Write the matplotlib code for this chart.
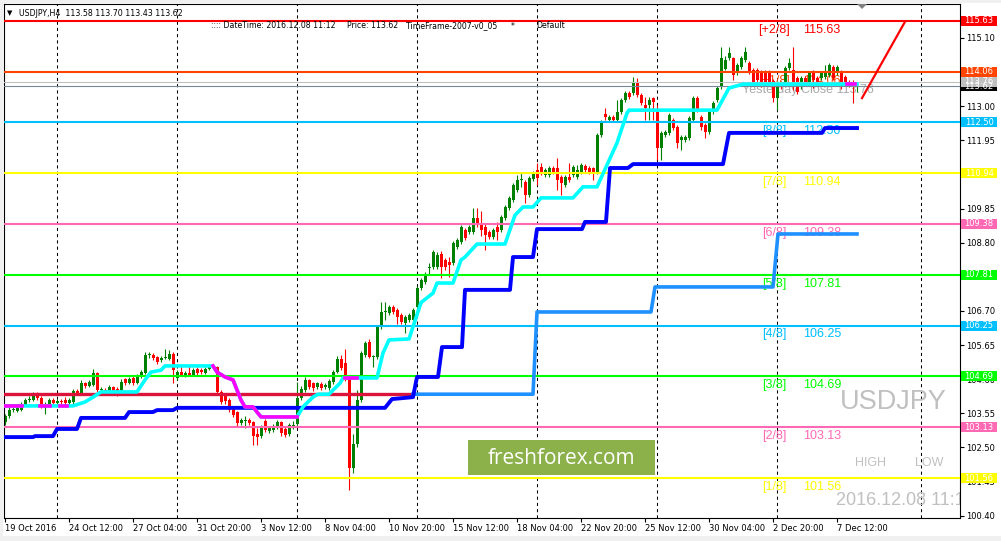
import numpy as np
import matplotlib.pyplot as plt
from matplotlib.patches import Rectangle, Polygon
from matplotlib.transforms import blended_transform_factory

plt.rcParams['font.family'] = ['DejaVu Sans']

# H4 candles, 19 Oct 2016 .. 8 Dec 2016 (bar index = position on chart)
opens = [
    103.28, 103.47, 103.65, 103.62, 103.65, 103.81, 103.96, 103.96, 104.08, 104.02,
    103.72, 103.81, 103.96, 103.87, 103.93, 103.96, 103.87, 103.90, 104.24, 104.18,
    104.48, 104.39, 104.42, 104.79, 104.27, 104.27, 104.21, 104.36, 104.30, 104.27,
    104.61, 104.48, 104.64, 104.48, 104.70, 104.79, 105.35, 105.35, 105.28, 105.19,
    105.25, 105.22, 105.38, 104.64, 104.82, 104.73, 104.79, 104.73, 104.92, 104.88,
    104.79, 104.92, 105.01, 104.98, 104.21, 104.08, 103.96, 103.72, 103.59, 103.25,
    103.31, 103.35, 103.28, 102.91, 102.85, 103.31, 103.00, 103.03, 103.13, 103.28,
    103.07, 102.91, 103.13, 103.22, 104.02, 104.27, 104.58, 104.48, 104.36, 104.45,
    104.36, 104.33, 104.52, 104.82, 105.22, 105.10, 104.64, 101.87, 102.60, 103.96,
    105.35, 105.75, 105.28, 105.28, 106.21, 106.67, 106.64, 106.82, 106.73, 106.58,
    106.33, 106.42, 106.42, 106.82, 107.40, 107.59, 108.02, 108.05, 108.05, 108.45,
    108.27, 108.20, 108.18, 108.67, 108.82, 109.19, 109.13, 109.13, 109.56, 109.35,
    109.28, 109.13, 108.98, 109.28, 109.19, 109.56, 109.87, 110.12, 110.42, 110.73,
    110.67, 110.27, 110.76, 111.04, 111.13, 110.89, 110.89, 111.10, 111.10, 110.82,
    110.58, 110.82, 110.89, 110.82, 110.98, 111.16, 111.10, 111.10, 110.98, 112.12,
    112.76, 112.58, 112.67, 112.58, 112.82, 113.19, 113.41, 113.41, 113.75, 113.35,
    113.04, 113.04, 113.25, 112.82, 111.72, 112.12, 112.18, 112.58, 112.36, 111.96,
    111.96, 112.02, 112.58, 113.25, 112.67, 112.42, 112.21, 112.82, 113.19, 113.59,
    114.15, 114.48, 114.48, 114.02, 114.21, 114.42, 114.33, 114.12, 114.12, 114.05,
    114.05, 114.05, 113.78, 113.25, 113.72, 113.72, 114.18, 114.12, 113.87, 113.59,
    113.87, 113.72, 114.05, 113.87, 113.87, 113.90, 113.96, 114.21, 114.02, 114.05,
    113.90, 113.75, 113.72, 113.58]
highs = [
    103.53, 103.75, 103.75, 103.78, 103.90, 104.02, 104.08, 104.21, 104.21, 104.08,
    103.90, 104.02, 104.02, 103.99, 103.99, 104.05, 104.02, 104.30, 104.30, 104.58,
    104.52, 104.58, 104.92, 104.82, 104.36, 104.33, 104.42, 104.39, 104.36, 104.61,
    104.64, 104.67, 104.73, 104.76, 104.88, 105.44, 105.44, 105.41, 105.31, 105.31,
    105.53, 105.50, 105.44, 104.88, 105.04, 104.85, 105.04, 104.95, 104.98, 104.95,
    104.98, 105.07, 105.07, 105.01, 104.27, 104.15, 104.02, 103.78, 103.62, 103.41,
    103.47, 103.41, 103.31, 103.10, 103.19, 103.38, 103.16, 103.22, 103.35, 103.31,
    103.13, 103.25, 103.31, 104.52, 104.39, 104.67, 104.61, 104.52, 104.52, 104.52,
    104.48, 104.61, 104.88, 105.31, 105.35, 105.53, 104.70, 102.90, 104.27, 105.47,
    105.78, 105.84, 105.35, 106.27, 106.98, 106.98, 106.88, 106.88, 106.79, 106.64,
    106.58, 106.64, 106.79, 107.47, 107.71, 107.90, 108.18, 108.58, 108.52, 108.55,
    108.33, 108.36, 108.85, 108.95, 109.35, 109.25, 109.35, 109.88, 109.88, 109.78,
    109.38, 109.19, 109.25, 109.44, 109.65, 109.96, 110.24, 110.64, 110.89, 110.95,
    110.73, 110.85, 111.01, 111.25, 111.25, 111.10, 111.16, 111.16, 111.41, 110.88,
    110.88, 111.25, 111.19, 111.19, 111.25, 111.22, 111.16, 111.13, 112.18, 112.58,
    112.95, 112.73, 112.73, 113.20, 113.25, 113.47, 113.47, 113.90, 113.87, 113.41,
    113.28, 113.28, 113.28, 113.04, 112.24, 112.27, 112.79, 112.64, 112.42, 112.12,
    112.12, 112.70, 113.31, 113.31, 112.73, 112.48, 112.88, 113.16, 113.62, 114.82,
    114.55, 114.82, 114.52, 114.33, 114.55, 114.82, 114.39, 114.18, 114.18, 114.12,
    114.12, 114.12, 113.84, 113.78, 113.78, 114.24, 114.48, 114.82, 113.93, 113.93,
    113.93, 114.08, 114.12, 113.93, 114.08, 114.27, 114.33, 114.27, 114.27, 114.12,
    113.96, 113.81, 113.81, 113.70]
lows = [
    103.19, 103.41, 103.59, 103.59, 103.62, 103.78, 103.90, 103.93, 103.96, 103.72,
    103.53, 103.75, 103.81, 103.84, 103.84, 103.81, 103.84, 103.84, 104.12, 104.12,
    104.33, 104.36, 104.39, 104.21, 104.21, 104.12, 104.18, 104.18, 104.08, 104.24,
    104.42, 104.45, 104.42, 104.45, 104.64, 104.76, 105.25, 105.19, 105.07, 105.13,
    105.22, 105.19, 104.48, 104.58, 104.70, 104.67, 104.70, 104.70, 104.73, 104.76,
    104.76, 104.88, 104.92, 104.15, 103.84, 103.84, 103.59, 103.44, 103.13, 103.19,
    103.10, 103.19, 102.58, 102.58, 102.79, 102.97, 102.94, 102.97, 103.07, 102.85,
    102.82, 102.85, 103.07, 103.16, 103.96, 104.21, 104.30, 104.24, 104.30, 104.27,
    104.30, 104.27, 104.45, 104.79, 104.88, 104.55, 101.19, 101.70, 102.50, 103.90,
    105.28, 105.25, 104.98, 105.22, 106.15, 106.42, 106.58, 106.61, 106.30, 106.30,
    106.02, 106.36, 106.36, 106.76, 107.35, 107.53, 107.81, 107.99, 107.99, 107.71,
    107.96, 107.75, 108.12, 108.61, 108.76, 108.88, 109.07, 109.07, 109.28, 109.00,
    108.58, 108.92, 108.92, 108.88, 109.13, 109.50, 109.81, 110.06, 110.36, 110.52,
    110.02, 110.21, 110.70, 110.58, 110.89, 110.82, 110.82, 110.92, 110.42, 110.27,
    110.52, 110.67, 110.82, 110.76, 110.92, 110.98, 110.92, 110.73, 110.92, 112.05,
    112.58, 112.51, 112.51, 112.51, 112.76, 113.13, 113.22, 113.35, 113.28, 113.04,
    112.58, 112.58, 112.58, 111.35, 111.35, 112.05, 112.12, 112.27, 111.72, 111.65,
    111.90, 111.96, 112.51, 112.82, 112.27, 112.02, 112.15, 112.76, 113.13, 113.53,
    114.10, 114.42, 113.81, 113.96, 114.15, 114.36, 113.99, 113.68, 113.72, 113.59,
    113.62, 113.68, 113.13, 112.88, 113.53, 113.65, 114.12, 113.50, 113.38, 113.53,
    113.65, 113.65, 113.56, 113.68, 113.81, 113.84, 113.90, 113.81, 113.96, 113.53,
    113.68, 113.59, 113.10, 113.43]
closes = [
    103.47, 103.65, 103.69, 103.72, 103.75, 103.96, 103.99, 104.08, 104.02, 103.81,
    103.84, 103.96, 103.87, 103.93, 103.90, 103.87, 103.96, 104.24, 104.18, 104.48,
    104.39, 104.52, 104.79, 104.27, 104.30, 104.21, 104.36, 104.24, 104.21, 104.52,
    104.48, 104.61, 104.48, 104.70, 104.82, 105.35, 105.35, 105.25, 105.13, 105.25,
    105.28, 105.38, 104.88, 104.82, 104.73, 104.79, 104.73, 104.88, 104.79, 104.82,
    104.92, 105.01, 104.98, 104.21, 103.90, 103.93, 103.65, 103.50, 103.25, 103.35,
    103.35, 103.25, 102.85, 102.82, 103.13, 103.03, 103.10, 103.16, 103.28, 102.94,
    102.88, 103.19, 103.19, 104.02, 104.30, 104.58, 104.36, 104.33, 104.48, 104.33,
    104.42, 104.55, 104.82, 105.22, 104.95, 104.64, 101.87, 102.60, 103.96, 105.41,
    105.72, 105.28, 105.31, 106.21, 106.67, 106.70, 106.82, 106.67, 106.52, 106.36,
    106.52, 106.58, 106.73, 107.40, 107.65, 107.81, 108.05, 108.52, 108.42, 108.05,
    108.05, 108.10, 108.79, 108.88, 109.28, 108.95, 109.28, 109.56, 109.35, 109.19,
    109.04, 108.98, 109.19, 109.13, 109.59, 109.90, 110.18, 110.58, 110.73, 110.76,
    110.27, 110.79, 110.95, 110.79, 110.95, 111.04, 111.10, 110.98, 110.73, 110.64,
    110.82, 110.73, 111.13, 111.04, 111.19, 111.04, 110.98, 110.98, 112.12, 112.51,
    112.67, 112.67, 112.58, 112.82, 113.19, 113.41, 113.28, 113.75, 113.35, 113.10,
    112.95, 113.19, 113.13, 111.72, 112.18, 112.21, 112.73, 112.33, 111.87, 112.05,
    112.05, 112.64, 113.25, 112.88, 112.36, 112.21, 112.82, 113.10, 113.56, 114.48,
    114.42, 114.64, 113.96, 114.27, 114.48, 114.67, 114.05, 113.75, 113.81, 113.65,
    113.72, 113.75, 113.25, 113.72, 113.59, 114.18, 114.33, 113.72, 113.44, 113.87,
    113.72, 114.02, 113.81, 113.75, 114.02, 114.05, 114.27, 113.87, 114.21, 113.59,
    113.75, 113.65, 113.59, 113.62]

# indicator lines (bar, price) vertices
trail_bars = [0, 17, 20, 22, 24, 33, 35, 36.5, 39, 40, 52, 53, 55, 57, 58, 59, 60, 62, 63, 64,
              73, 74.5, 77, 78.25, 81, 83.75, 84.5, 93, 94.5, 96, 101, 104, 107, 108, 112, 114,
              115, 118, 125, 127.5, 129.5, 132, 134, 142, 144.5, 148, 153, 155.5, 156, 178,
              181, 184.5, 213]
trail_prices = [103.78, 103.78, 103.90, 104.05, 104.21, 104.21, 104.58, 104.82, 104.88, 105.01,
                105.01, 104.82, 104.67, 104.58, 104.27, 103.96, 103.75, 103.75, 103.59, 103.44,
                103.44, 103.75, 104.05, 104.14, 104.14, 104.48, 104.64, 104.64, 105.41, 105.81,
                105.84, 106.96, 107.25, 107.56, 107.56, 108.27, 108.36, 108.76, 108.76, 109.65,
                109.90, 109.90, 110.18, 110.18, 110.52, 110.52, 111.87, 112.79, 112.88, 112.88,
                113.56, 113.68, 113.68]
# parts of the trailing line drawn in magenta (down state)
down_parts = [
    ([0, 4.25], [103.78, 103.78]),
    ([8.75, 11.25], [103.78, 103.78]),
    ([13.75, 15.5], [103.78, 103.78]),
    ([52, 53, 55, 57, 58, 59, 60, 62, 63, 64, 73],
     [105.01, 104.82, 104.67, 104.58, 104.27, 103.96, 103.75, 103.75, 103.59, 103.44, 103.44]),
    ([85, 88], [104.64, 104.64]),
    ([210.5, 212.5], [113.68, 113.68]),
]
blue_bars = [0, 7, 7.5, 12, 13, 18, 19, 30, 31, 37, 38, 42, 43, 95, 96.75, 102, 103, 108.25,
             109.25, 114.25, 115, 126.25, 127, 132, 133, 144.25, 145, 150.25, 151.25, 155.75,
             157, 179.5, 181, 204.25, 205, 213]
blue_prices = [102.82, 102.82, 102.85, 102.85, 103.07, 103.07, 103.41, 103.41, 103.59, 103.59,
               103.65, 103.65, 103.72, 103.72, 103.99, 104.05, 104.67, 104.67, 105.59, 105.59,
               107.35, 107.35, 108.36, 108.36, 109.22, 109.22, 109.44, 109.44, 111.10, 111.10,
               111.22, 111.22, 112.18, 112.18, 112.33, 112.33]
crimson_bars = [0, 102]
crimson_prices = [104.14, 104.14]
dodger_bars = [102, 132, 133, 161.5, 162.5, 192, 193.25, 213]
dodger_prices = [104.14, 104.14, 106.67, 106.67, 107.44, 107.44, 109.07, 109.07]
trend_bars = [214.25, 225]
trend_prices = [113.25, 115.60]

# Murrey levels
level_prices = [115.63, 114.06, 112.50, 110.94, 109.38, 107.81, 106.25, 104.69, 103.13, 101.56]
level_tags = ['[+2/8]', '[+1/8]', '[8/8]', '[7/8]', '[6/8]', '[5/8]', '[4/8]', '[3/8]', '[2/8]', '[1/8]']
level_colors = ['#ff0000', '#ff4500', '#00bfff', '#ffff00', '#ff69b4', '#00ff00',
                '#00bfff', '#00ff00', '#ff69b4', '#ffff00']
yesterday_close = 113.76
bid = 113.62

tick_prices = [100.40, 101.45, 102.50, 103.55, 104.60, 105.65, 106.70, 107.75, 108.80,
               109.85, 110.90, 111.95, 113.00, 114.05, 115.10]
hidden_ticks = [110.90, 114.05]
time_bars = [0, 16, 32, 48, 64, 80, 96, 112, 128, 144, 160, 176, 192, 208]
time_labels = ['19 Oct 2016', '24 Oct 12:00', '27 Oct 04:00', '31 Oct 20:00', '3 Nov 12:00',
               '8 Nov 04:00', '10 Nov 20:00', '15 Nov 12:00', '18 Nov 04:00', '22 Nov 20:00',
               '25 Nov 12:00', '30 Nov 04:00', '2 Dec 20:00', '7 Dec 12:00']
grid_bars = [13, 43, 73, 103, 133, 163, 193, 229]

W, H = 1001, 541
fig = plt.figure(figsize=(W / 100, H / 100), dpi=100)
fig.patch.set_facecolor('#f0f0f0')
fig.patches.append(Rectangle((3 / W, 1 - 536 / H), 998 / W, 533 / H, transform=fig.transFigure,
                             facecolor='white', edgecolor='none', zorder=-5))


def fx(x):
    return x / W


def fy(y):
    return 1 - y / H


ax = fig.add_axes([fx(4), fy(517.5), 955.5 / W, 513.5 / H])
ax.set_xlim(-0.25, 238.625)
ax.set_ylim(100.346, 116.146)
ax.set_facecolor('white')
for s in ax.spines.values():
    s.set_linewidth(0.8)
    s.set_color('black')

for b in grid_bars:
    ax.axvline(b, color='black', lw=0.75, ls=(0, (3, 3)), zorder=1)

# candles
o = np.array(opens)
h = np.array(highs)
l = np.array(lows)
c = np.array(closes)
x = np.arange(len(c))
colors = np.where(c >= o, '#008000', '#ff0000')
ax.vlines(x, l, h, colors=colors, lw=0.8, zorder=2)
ax.bar(x, np.maximum(np.abs(c - o), 0.03), bottom=np.minimum(o, c), width=0.75,
       color=colors, linewidth=0, zorder=2.1)

# horizontal levels
for p, col in zip(level_prices, level_colors):
    ax.axhline(p, color=col, lw=1.5, zorder=3)
ax.axhline(yesterday_close, color='#c0c0c0', lw=0.8, zorder=3)
ax.axhline(bid, color='#778899', lw=0.8, zorder=3)

lab_font = ['Liberation Sans', 'DejaVu Sans']
for p, tag, col in zip(level_prices, level_tags, level_colors):
    z = 1.5 if tag == '[+1/8]' else 3.5
    ax.annotate(tag, (192.25, p), xytext=(0, -2), textcoords='offset points', ha='center',
                va='top', fontsize=9, color=col, family=lab_font, zorder=z)
    ax.annotate(f'{p:.2f}', (199.5, p), xytext=(0, -2), textcoords='offset points', ha='left',
                va='top', fontsize=9, color=col, family=lab_font, zorder=z)
ax.annotate(f'Yesterday Close {yesterday_close:.2f}', (184.25, yesterday_close), xytext=(0, -2),
            textcoords='offset points', ha='left', va='top', fontsize=9, color='#a9a9a9',
            family=lab_font, zorder=1.5)

# indicators
ax.plot(crimson_bars, crimson_prices, color='#dc143c', lw=2.4, zorder=4)
ax.plot(dodger_bars, dodger_prices, color='#1e90ff', lw=2.6, zorder=4)
ax.plot(blue_bars, blue_prices, color='#0000ff', lw=2.8, zorder=4)
ax.plot(trail_bars, trail_prices, color='#00ffff', lw=2.6, zorder=4.2)
for bx, py in down_parts:
    ax.plot(bx, py, color='#ff00ff', lw=2.6, zorder=4.3)
ax.plot(trend_bars, trend_prices, color='#ff0000', lw=1.6, zorder=4.5)

# axes ticks
ax.yaxis.tick_right()
ax.set_yticks(tick_prices)
ax.set_yticklabels(['' if t in hidden_ticks else f'{t:.2f}' for t in tick_prices])
ax.tick_params(axis='y', direction='out', length=3, width=0.8, pad=2, labelsize=6)
ax.set_xticks(time_bars)
ax.set_xticklabels(time_labels)
ax.tick_params(axis='x', direction='out', length=3, width=0.8, pad=2, labelsize=6)
for t in ax.get_xticklabels():
    t.set_horizontalalignment('left')

# price boxes on the right scale
tr = blended_transform_factory(ax.transAxes, ax.transData)
box_prices = level_prices[:2] + [bid, yesterday_close] + level_prices[2:]
box_colors = level_colors[:2] + ['#000000', '#c0c0c0'] + level_colors[2:]
bh = 10 / 32.5
for p, col in zip(box_prices, box_colors):
    ax.add_patch(Rectangle((1.0016, p - bh / 2), 0.0377, bh, transform=tr, facecolor=col,
                           edgecolor='none', clip_on=False, zorder=10))
    ax.text(1.0205, p, f'{p:.2f}', transform=tr, ha='center', va='center', fontsize=6,
            color='white', clip_on=False, zorder=11)

# header
fig.text(fx(7), fy(13), '\u25bc', fontsize=5, va='center', ha='left')
fig.text(fx(19), fy(13), 'USDJPY,H4  113.58 113.70 113.43 113.62', fontsize=5.7, va='center', ha='left')
fig.text(fx(211), fy(26), ':::: DateTime: 2016.12.08 11:12', fontsize=5.6, va='center', ha='left')
fig.text(fx(347), fy(26), 'Price: 113.62', fontsize=5.6, va='center', ha='left')
fig.text(fx(406), fy(26), 'TimeFrame-2007-v0_05', fontsize=5.6, va='center', ha='left')
fig.text(fx(511), fy(26), '*', fontsize=5.6, va='center', ha='left')
fig.text(fx(536), fy(26), 'Default', fontsize=5.6, va='center', ha='left')

# screen labels
gray = '#c0c0c0'
fig.text(fx(840), fy(402), 'USDJPY', fontsize=19.5, color=gray, va='center', ha='left', family=lab_font)
fig.text(fx(855), fy(463.5), 'HIGH', fontsize=9, color=gray, va='center', ha='left', family=lab_font)
fig.text(fx(915), fy(463.5), 'LOW', fontsize=9, color=gray, va='center', ha='left', family=lab_font)
ax.text(fx(836), fy(500.5), '2016.12.08 11:12', transform=fig.transFigure, fontsize=13, color=gray,
        va='center', ha='left', family=lab_font, clip_on=True, zorder=1)

# watermark
fig.patches.append(Rectangle((fx(468), fy(475)), 187 / W, 35 / H, transform=fig.transFigure,
                             facecolor='#8cb14b', edgecolor='none', zorder=5))
fig.text(fx(561.5), fy(458), 'freshforex.com', fontsize=15, color='white', ha='center', va='center',
         family=['Open Sans', 'DejaVu Sans'], zorder=6)

# chart shift marker
fig.patches.append(Polygon([(fx(857), fy(4)), (fx(867), fy(4)), (fx(862), fy(9))], closed=True,
                           transform=fig.transFigure, facecolor='#808080', edgecolor='none', zorder=6))

fig.savefig('out.png', dpi=100)
